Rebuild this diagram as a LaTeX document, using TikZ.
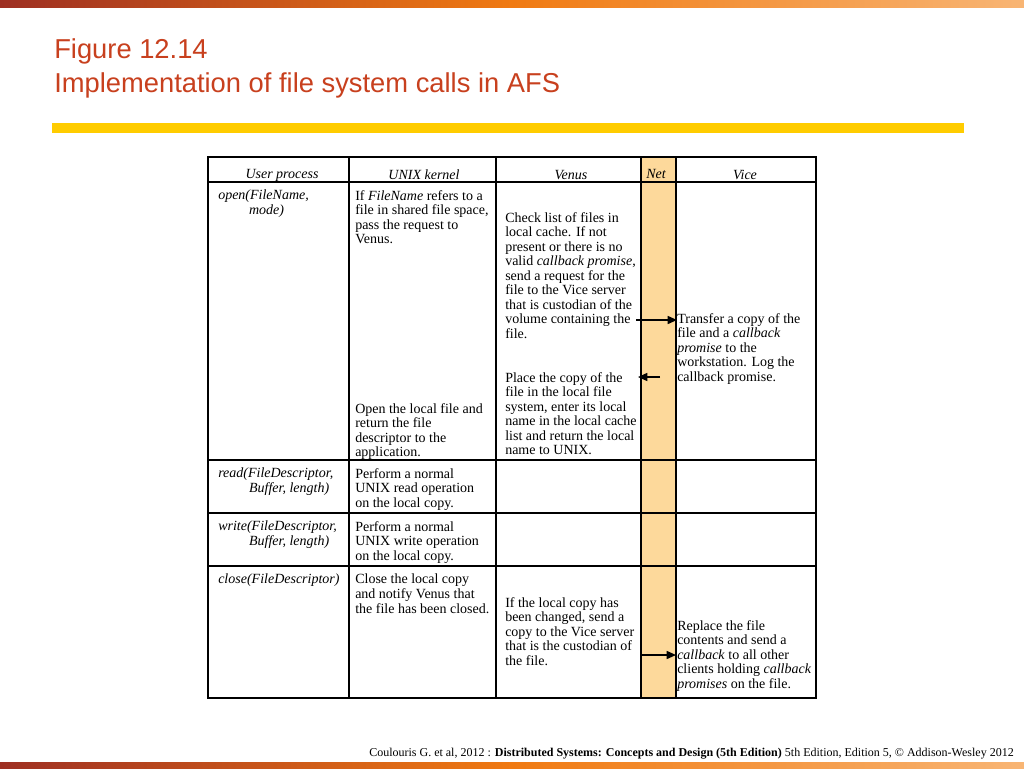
\documentclass[tikz,border=0pt]{standalone}
\usepackage{fontspec}
\setmainfont{Liberation Serif}
\newfontfamily\titlefont{Liberation Sans}
\definecolor{titlered}{HTML}{C8401E}
\definecolor{barY}{HTML}{FFCC00}
\definecolor{netfill}{HTML}{FDD99B}
\definecolor{dred}{HTML}{9E2F22}
\definecolor{orng}{HTML}{F07A12}
\definecolor{lorng}{HTML}{F8B574}
\usetikzlibrary{arrows.meta}
\begin{document}
\begin{tikzpicture}[x=0.75pt,y=-0.75pt,
  cell/.style={anchor=north west,align=left,inner sep=0pt,font=\fontsize{10.5}{10.9}\selectfont},
  hdr/.style={inner sep=0pt,font=\fontsize{10.5}{11}\selectfont\itshape},
  grid/.style={line width=1.5pt},
  arr/.style={-{Triangle[length=7pt,width=6pt]},line width=1.1pt}]
\useasboundingbox (0,0) rectangle (1024,768);
\fill[white] (0,0) rectangle (1024,768);
% top and bottom bars
\shade[left color=dred,right color=orng] (0,0) rectangle (512,7);
\shade[left color=orng,right color=lorng] (512,0) rectangle (1024,7);
\shade[left color=dred,right color=orng] (0,762) rectangle (512,768);
\shade[left color=orng,right color=lorng] (512,762) rectangle (1024,768);
% title
\node[anchor=base west,inner sep=0pt,text=titlered,font=\titlefont\fontsize{20.5}{22}\selectfont] (t1) at (54,58) {Figure 12.14};
\node[anchor=base west,inner sep=0pt,text=titlered,font=\titlefont\fontsize{20.5}{22}\selectfont] (t2) at (54,92) {Implementation of file system calls in AFS};
\fill[barY] (52,123) rectangle (964,133);
% net column
\fill[netfill] (641,157) rectangle (676,698);
% grid
\draw[grid] (208,157) rectangle (816,698);
\foreach \x in {349,496,641,676} \draw[grid] (\x,157) -- (\x,698);
\foreach \y in {182,460,513,566} \draw[grid] (208,\y) -- (816,\y);
% headers
\node[hdr] (h1) at (282,175) {User process};
\node[hdr] (h2) at (424,175) {UNIX kernel};
\node[hdr] (h3) at (571,175) {Venus};
\node[hdr] (h4) at (656,174) {Net};
\node[hdr] (h5) at (745,175) {Vice};
% row open
\node[cell] (u1) at (218,190) {\textit{open(FileName,}\\\hspace{2.2em}\textit{mode)}};
\node[cell] (k1) at (355,190) {If \textit{FileName} refers to a\\file in shared file space,\\pass the request to\\Venus.};
\node[cell] (v1) at (505,212) {Check list of files in\\local cache. If not\\present or there is no\\valid \textit{callback promise},\\send a request for the\\file to the Vice server\\that is custodian of the\\volume containing the\\file.};
\node[cell] (s1) at (677,313) {Transfer a copy of the\\file and a \textit{callback}\\\textit{promise} to the\\workstation. Log the\\callback promise.};
\node[cell] (v2) at (505,372) {Place the copy of the\\file in the local file\\system, enter its local\\name in the local cache\\list and return the local\\name to UNIX.};
\node[cell] (k2) at (355,403) {Open the local file and\\return the file\\descriptor to the\\application.};
% row read
\node[cell] (u2) at (218,468) {\textit{read(FileDescriptor,}\\\hspace{2.2em}\textit{Buffer, length)}};
\node[cell] (k3) at (355,468) {Perform a normal\\UNIX read operation\\on the local copy.};
% row write
\node[cell] (u3) at (218,521) {\textit{write(FileDescriptor,}\\\hspace{2.2em}\textit{Buffer, length)}};
\node[cell] (k4) at (355,521) {Perform a normal\\UNIX write operation\\on the local copy.};
% row close
\node[cell] (u4) at (218,574) {\textit{close(FileDescriptor)}};
\node[cell] (k5) at (355,574) {Close the local copy\\and notify Venus that\\the file has been closed.};
\node[cell] (v3) at (505,597) {If the local copy has\\been changed, send a\\copy to the Vice server\\that is the custodian of\\the file.};
\node[cell] (s2) at (677,620) {Replace the file\\contents and send a\\\textit{callback} to all other\\clients holding \textit{callback}\\\textit{promises} on the file.};
% arrows
\coordinate (a1s) at (636,320); \coordinate (a1e) at (677,320);
\coordinate (a2s) at (660,377); \coordinate (a2e) at (638,377);
\coordinate (a3s) at (641,655); \coordinate (a3e) at (676,655);
\draw[arr] (a1s) -- (a1e);
\draw[arr] (a2s) -- (a2e);
\draw[arr] (a3s) -- (a3e);
% footer
\node[anchor=base east,inner sep=0pt,font=\fontsize{9}{10}\selectfont] (ft) at (1014,756) {Coulouris G. et al, 2012 : \textbf{Distributed Systems: Concepts and Design (5th Edition)} 5th Edition, Edition 5, © Addison-Wesley 2012};
\end{tikzpicture}
\end{document}
